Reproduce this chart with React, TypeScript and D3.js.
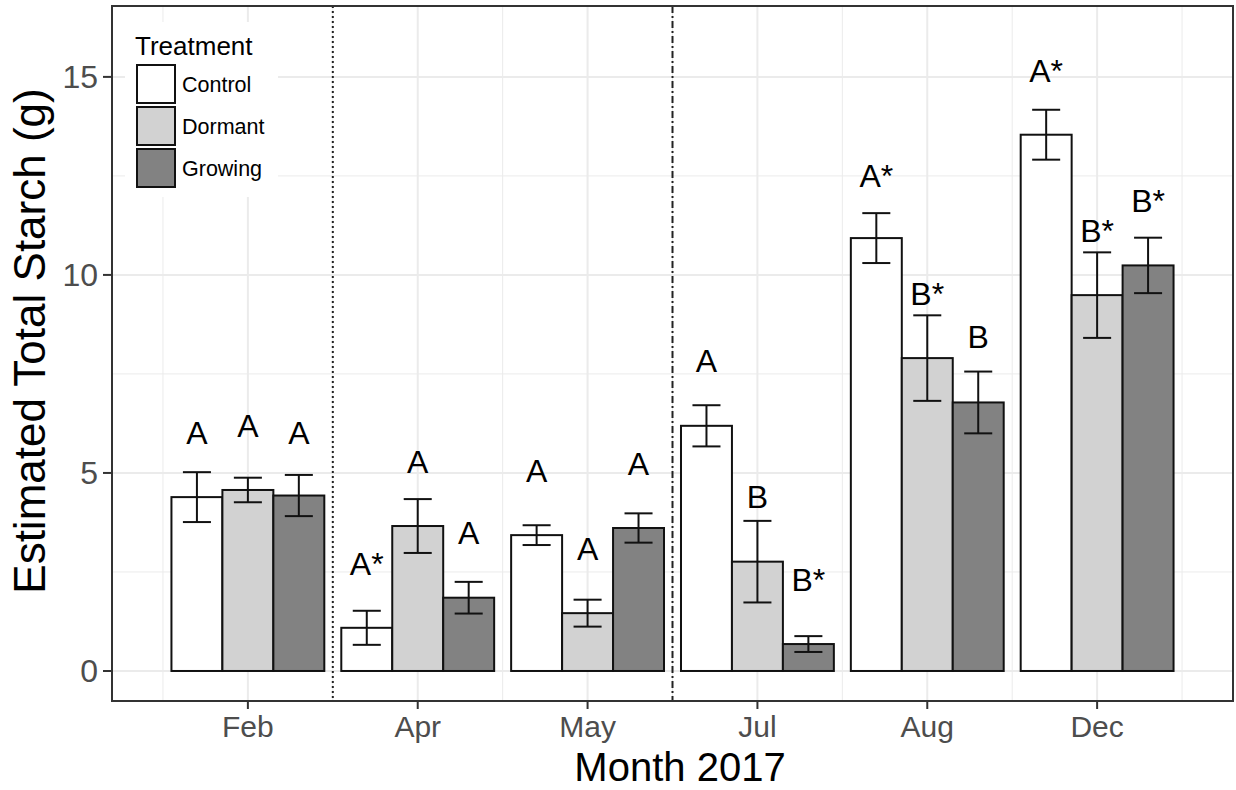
import React, { useEffect, useRef } from "react";
import * as d3 from "d3";

const months = ["Feb", "Apr", "May", "Jul", "Aug", "Dec"];
const treatments = ["Control", "Dormant", "Growing"];
const fills = ["#FFFFFF", "#D2D2D2", "#828282"];

const controlMean = [4.39, 1.09, 3.43, 6.19, 10.93, 13.54];
const dormantMean = [4.57, 3.66, 1.46, 2.76, 7.9, 9.49];
const growingMean = [4.43, 1.85, 3.61, 0.68, 6.78, 10.24];

const controlSE = [0.63, 0.43, 0.25, 0.52, 0.63, 0.63];
const dormantSE = [0.31, 0.68, 0.34, 1.03, 1.08, 1.08];
const growingSE = [0.52, 0.4, 0.37, 0.2, 0.78, 0.7];

const controlLetters = ["A", "A*", "A", "A", "A*", "A*"];
const dormantLetters = ["A", "A", "A", "B", "B*", "B*"];
const growingLetters = ["A", "A", "A", "B*", "B", "B*"];

// where the letters sit (data units)
const controlLabelY = [5.73, 2.42, 4.76, 7.55, 12.22, 14.88];
const dormantLabelY = [5.91, 4.99, 2.8, 4.11, 9.24, 10.84];
const growingLabelY = [5.73, 3.2, 4.95, 2.02, 8.15, 11.6];

const yTicks = [0, 5, 10, 15];

const W = 1236;
const H = 790;
const FONT = "'Liberation Sans', Arial, sans-serif";

const StarchChart = () => {
  const svgRef = useRef<SVGSVGElement>(null);

  useEffect(() => {
    const svg = d3.select(svgRef.current);
    svg.selectAll("*").remove();

    const left = 112, right = 1233, top = 6, bottom = 701;

    const x = d3.scaleLinear().domain([0.2, 6.8]).range([left, right]);
    const y = d3.scaleLinear().domain([-0.758, 16.79]).range([bottom, top]);

    const means = [controlMean, dormantMean, growingMean];
    const ses = [controlSE, dormantSE, growingSE];
    const letters = [controlLetters, dormantLetters, growingLetters];
    const labelYs = [controlLabelY, dormantLabelY, growingLabelY];

    const rows: any[] = [];
    treatments.forEach((t, ti) => {
      months.forEach((m, mi) => {
        rows.push({
          t: ti,
          pos: mi + 1 + (ti - 1) * 0.3,
          mean: means[ti][mi],
          se: ses[ti][mi],
          letter: letters[ti][mi],
          ly: labelYs[ti][mi],
        });
      });
    });

    svg.append("rect").attr("width", W).attr("height", H).attr("fill", "white");

    // grid
    const grid = svg.append("g");
    const minorX = d3.range(0.5, 7, 1);
    const minorY = [2.5, 7.5, 12.5];
    grid.selectAll(".mx").data(minorX).enter().append("line")
      .attr("x1", (d) => x(d)).attr("x2", (d) => x(d))
      .attr("y1", top).attr("y2", bottom)
      .attr("stroke", "#EBEBEB").attr("stroke-width", 1);
    grid.selectAll(".my").data(minorY).enter().append("line")
      .attr("x1", left).attr("x2", right)
      .attr("y1", (d) => y(d)).attr("y2", (d) => y(d))
      .attr("stroke", "#EBEBEB").attr("stroke-width", 1);
    grid.selectAll(".Mx").data(d3.range(1, 7)).enter().append("line")
      .attr("x1", (d) => x(d)).attr("x2", (d) => x(d))
      .attr("y1", top).attr("y2", bottom)
      .attr("stroke", "#EBEBEB").attr("stroke-width", 2);
    grid.selectAll(".My").data(yTicks).enter().append("line")
      .attr("x1", left).attr("x2", right)
      .attr("y1", (d) => y(d)).attr("y2", (d) => y(d))
      .attr("stroke", "#EBEBEB").attr("stroke-width", 2);

    // separators
    svg.append("line")
      .attr("x1", x(1.5)).attr("x2", x(1.5)).attr("y1", top).attr("y2", bottom)
      .attr("stroke", "#222").attr("stroke-width", 2)
      .attr("stroke-dasharray", "2,3");
    svg.append("line")
      .attr("x1", x(3.5)).attr("x2", x(3.5)).attr("y1", top).attr("y2", bottom)
      .attr("stroke", "#222").attr("stroke-width", 2)
      .attr("stroke-dasharray", "7,3,2,3");

    // bars
    const bw = x(0.3) - x(0);
    svg.append("g").selectAll("rect").data(rows).enter().append("rect")
      .attr("x", (d) => x(d.pos) - bw / 2)
      .attr("width", bw)
      .attr("y", (d) => y(d.mean))
      .attr("height", (d) => y(0) - y(d.mean))
      .attr("fill", (d) => fills[d.t])
      .attr("stroke", "#111")
      .attr("stroke-width", 2);

    // error bars
    const cap = (x(0.165) - x(0)) / 2;
    const eb = svg.append("g").attr("stroke", "#111").attr("stroke-width", 2);
    rows.forEach((d) => {
      const cx = x(d.pos);
      const y1 = y(d.mean + d.se);
      const y0 = y(d.mean - d.se);
      eb.append("line").attr("x1", cx).attr("x2", cx).attr("y1", y1).attr("y2", y0);
      eb.append("line").attr("x1", cx - cap).attr("x2", cx + cap).attr("y1", y1).attr("y2", y1);
      eb.append("line").attr("x1", cx - cap).attr("x2", cx + cap).attr("y1", y0).attr("y2", y0);
    });

    // letters
    svg.append("g").selectAll("text").data(rows).enter().append("text")
      .attr("x", (d) => x(d.pos))
      .attr("y", (d) => y(d.ly))
      .attr("text-anchor", "middle")
      .attr("font-family", FONT)
      .attr("font-size", 32)
      .attr("fill", "#000")
      .text((d) => d.letter);

    // legend
    const lg = svg.append("g");
    lg.append("rect").attr("x", 125).attr("y", 22).attr("width", 153).attr("height", 175).attr("fill", "white");
    lg.append("text").attr("x", 135).attr("y", 55)
      .attr("font-family", FONT).attr("font-size", 26).attr("fill", "#000")
      .text("Treatment");
    treatments.forEach((t, i) => {
      const ky = 65 + i * 42;
      lg.append("rect").attr("x", 137).attr("y", ky).attr("width", 38).attr("height", 38)
        .attr("fill", fills[i]).attr("stroke", "#111").attr("stroke-width", 2);
      lg.append("text").attr("x", 182).attr("y", ky + 19).attr("dy", "0.36em")
        .attr("font-family", FONT).attr("font-size", 21.5).attr("fill", "#000")
        .text(t);
    });

    // panel border
    svg.append("rect")
      .attr("x", left).attr("y", top).attr("width", right - left).attr("height", bottom - top)
      .attr("fill", "none").attr("stroke", "#333").attr("stroke-width", 2);

    // y axis
    const ya = svg.append("g");
    yTicks.forEach((v) => {
      ya.append("line").attr("x1", left - 9).attr("x2", left).attr("y1", y(v)).attr("y2", y(v))
        .attr("stroke", "#333").attr("stroke-width", 2);
      ya.append("text").attr("x", left - 14).attr("y", y(v)).attr("dy", "0.36em")
        .attr("text-anchor", "end").attr("font-family", FONT).attr("font-size", 32)
        .attr("fill", "#4D4D4D").text(v);
    });

    // x axis
    const xa = svg.append("g");
    months.forEach((m, i) => {
      xa.append("line").attr("x1", x(i + 1)).attr("x2", x(i + 1)).attr("y1", bottom).attr("y2", bottom + 8)
        .attr("stroke", "#333").attr("stroke-width", 2);
      xa.append("text").attr("x", x(i + 1)).attr("y", 737)
        .attr("text-anchor", "middle").attr("font-family", FONT).attr("font-size", 30)
        .attr("fill", "#4D4D4D").text(m);
    });

    svg.append("text").attr("x", 680).attr("y", 781)
      .attr("text-anchor", "middle").attr("font-family", FONT).attr("font-size", 40)
      .attr("fill", "#000").text("Month 2017");

    svg.append("text")
      .attr("transform", `translate(45, 341) rotate(-90)`)
      .attr("text-anchor", "middle").attr("font-family", FONT).attr("font-size", 44)
      .attr("fill", "#000").text("Estimated Total Starch (g)");
  }, []);

  return <svg ref={svgRef} width={W} height={H} style={{ display: "block" }} />;
};

export default function App() {
  return (
    <div style={{ position: "absolute", left: 0, top: 0 }}>
      <StarchChart />
    </div>
  );
}
